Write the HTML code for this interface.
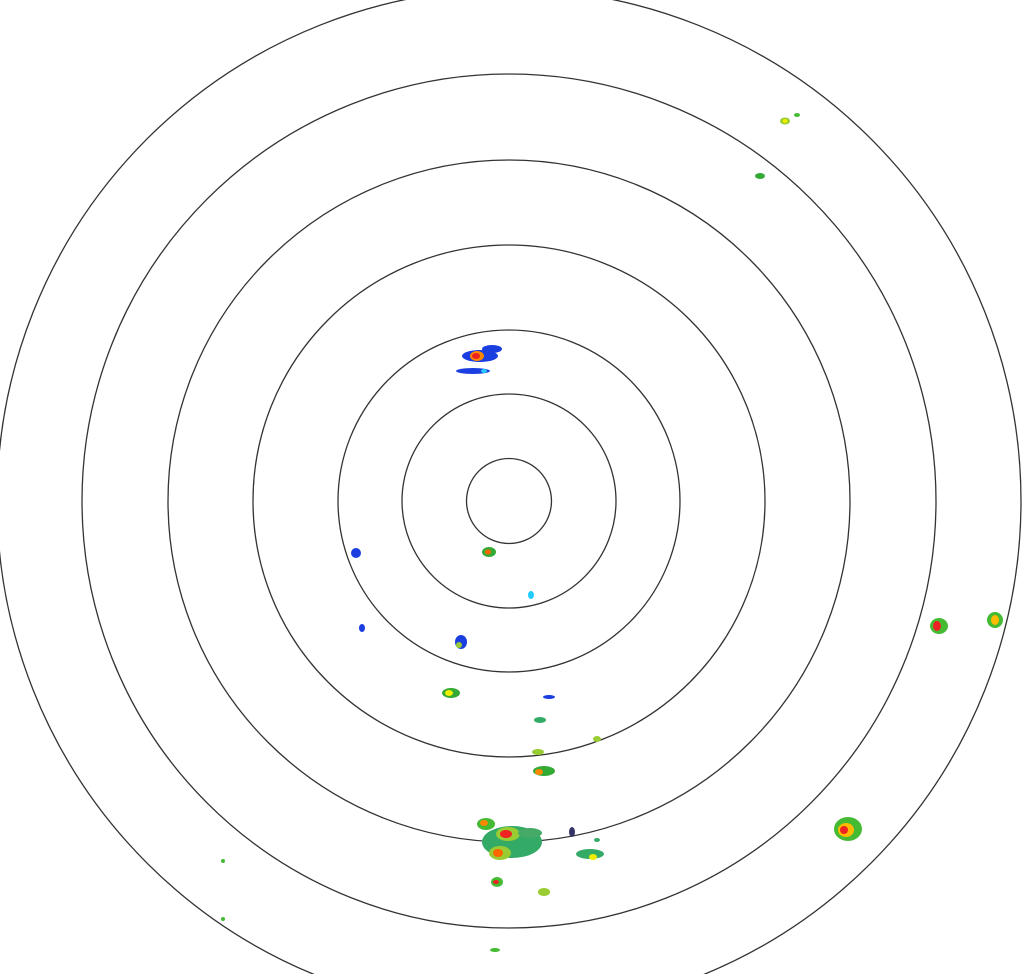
<!DOCTYPE html>
<html><head><meta charset="utf-8"><style>html,body{margin:0;padding:0;background:#fff}svg{display:block}</style></head>
<body>
<svg width="1029" height="974" viewBox="0 0 1029 974" xmlns="http://www.w3.org/2000/svg">
<g fill="none" stroke="#333" stroke-width="1.3">
<circle cx="509" cy="501" r="42.5"/>
<circle cx="509" cy="501" r="107"/>
<circle cx="509" cy="501" r="171"/>
<circle cx="509" cy="501" r="256"/>
<circle cx="509" cy="501" r="341"/>
<circle cx="509" cy="501" r="427"/>
<circle cx="509" cy="501" r="512"/>
</g>
<g>
<!-- top right -->
<ellipse cx="785" cy="121" rx="5" ry="3.5" fill="#9c3"/><ellipse cx="785" cy="121" rx="2.5" ry="2" fill="#ee0"/>
<ellipse cx="797" cy="115" rx="3" ry="2" fill="#4b3"/>
<ellipse cx="760" cy="176" rx="5" ry="3" fill="#3a3"/>
<!-- north blue cell -->
<ellipse cx="480" cy="356" rx="18" ry="6" fill="#1a3ee0"/>
<ellipse cx="492" cy="349" rx="10" ry="4" fill="#1a3ee0"/>
<ellipse cx="477" cy="356" rx="7" ry="5" fill="#f80"/><ellipse cx="476" cy="356" rx="4" ry="3" fill="#e22"/>
<ellipse cx="473" cy="371" rx="17" ry="3" fill="#1a3ee0"/>
<ellipse cx="484" cy="371" rx="3" ry="2" fill="#2cf"/>
<!-- near center -->
<ellipse cx="489" cy="552" rx="7" ry="5" fill="#3a3"/><ellipse cx="488" cy="552" rx="3" ry="2.5" fill="#f60"/>
<ellipse cx="356" cy="553" rx="5" ry="5" fill="#1a3ee0"/>
<ellipse cx="531" cy="595" rx="3" ry="4" fill="#2cf"/>
<ellipse cx="362" cy="628" rx="3" ry="4" fill="#1a3ee0"/>
<ellipse cx="461" cy="642" rx="6" ry="7" fill="#1a3ee0"/><ellipse cx="459" cy="645" rx="3" ry="3" fill="#9c3"/>
<ellipse cx="451" cy="693" rx="9" ry="5" fill="#3a3"/><ellipse cx="449" cy="693" rx="4" ry="3" fill="#ee0"/>
<ellipse cx="549" cy="697" rx="6" ry="2" fill="#1a3ee0"/>
<ellipse cx="540" cy="720" rx="6" ry="3" fill="#3a6"/>
<ellipse cx="597" cy="739" rx="4" ry="3" fill="#9c3"/>
<ellipse cx="538" cy="752" rx="6" ry="3" fill="#9c3"/>
<ellipse cx="544" cy="771" rx="11" ry="5" fill="#3a3"/><ellipse cx="539" cy="772" rx="4" ry="3" fill="#f80"/>
<!-- right -->
<ellipse cx="939" cy="626" rx="9" ry="8" fill="#4b3"/><ellipse cx="937" cy="626" rx="4" ry="5" fill="#e22"/>
<ellipse cx="995" cy="620" rx="8" ry="8" fill="#4b3"/><ellipse cx="995" cy="620" rx="4" ry="5" fill="#fb0"/>
<ellipse cx="848" cy="829" rx="14" ry="12" fill="#4b3"/><ellipse cx="846" cy="830" rx="8" ry="7" fill="#fb0"/><ellipse cx="844" cy="830" rx="4" ry="4" fill="#e22"/>
<!-- south cluster -->
<ellipse cx="512" cy="842" rx="30" ry="16" fill="#3a6"/>
<ellipse cx="486" cy="824" rx="9" ry="6" fill="#4b3"/><ellipse cx="484" cy="823" rx="4" ry="3" fill="#f80"/>
<ellipse cx="508" cy="834" rx="12" ry="7" fill="#9c3"/><ellipse cx="506" cy="834" rx="6" ry="4" fill="#e22"/>
<ellipse cx="500" cy="853" rx="11" ry="7" fill="#9c3"/><ellipse cx="498" cy="853" rx="5" ry="4" fill="#f60"/>
<ellipse cx="530" cy="833" rx="12" ry="5" fill="#4a6"/>
<ellipse cx="572" cy="832" rx="3" ry="5" fill="#336"/>
<ellipse cx="590" cy="854" rx="14" ry="5" fill="#3a6"/><ellipse cx="593" cy="857" rx="4" ry="3" fill="#ee0"/>
<ellipse cx="597" cy="840" rx="3" ry="2" fill="#3a6"/>
<ellipse cx="497" cy="882" rx="6" ry="5" fill="#4b3"/><ellipse cx="496" cy="882" rx="3" ry="2" fill="#e22"/>
<ellipse cx="544" cy="892" rx="6" ry="4" fill="#9c3"/>
<ellipse cx="495" cy="950" rx="5" ry="2" fill="#4b3"/>
<ellipse cx="223" cy="861" rx="2" ry="2" fill="#4b3"/>
<ellipse cx="223" cy="919" rx="2" ry="2" fill="#4b3"/>
</g>
</svg>
</body></html>
